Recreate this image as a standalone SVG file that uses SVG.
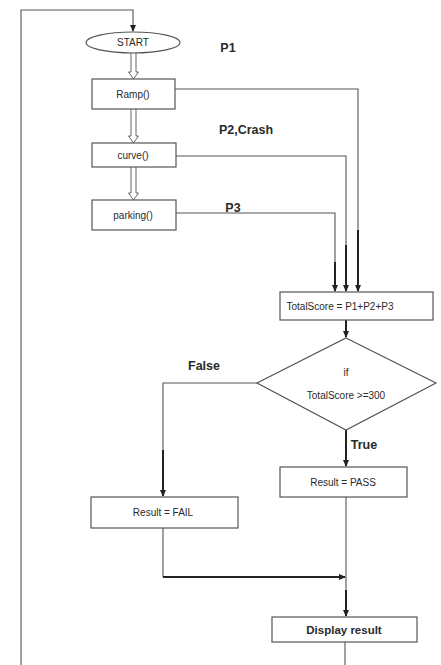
<svg xmlns="http://www.w3.org/2000/svg" width="441" height="665" viewBox="0 0 441 665">
<style>
.box{fill:#fff;stroke:#555;stroke-width:1.2}
.ln{fill:none;stroke:#555;stroke-width:1.1}
.thick{fill:none;stroke:#222;stroke-width:2}
.hol{fill:#fff;stroke:#666;stroke-width:1}
text{font-family:"Liberation Sans",Arial,sans-serif;fill:#2a2a2a;text-anchor:middle}
.t{font-size:10px}
.b{font-weight:bold;font-size:12.5px}
</style>
<defs>
<marker id="ah" markerWidth="8" markerHeight="8" refX="6" refY="4" orient="auto" markerUnits="userSpaceOnUse">
<path d="M0,1 L7,4 L0,7 Z" fill="#222"/>
</marker>
</defs>
<rect width="441" height="665" fill="#fff"/>
<g id="connectors">
<path class="ln" d="M21,665 V10 H133 V31" marker-end="url(#ah)"/>
<path class="hol" d="M131,53 V72 H128.5 L133.5,79 L138.5,72 H136 V53"/>
<path class="hol" d="M131,109 V136 H128.5 L133.5,143 L138.5,136 H136 V109"/>
<path class="hol" d="M131,167 V193 H128.5 L133.5,200 L138.5,193 H136 V167"/>
<path class="ln" d="M175,89 H358 V230"/>
<path class="thick" d="M358,230 V291" marker-end="url(#ah)"/>
<path class="ln" d="M176,156 H346 V245"/>
<path class="thick" d="M346,245 V291" marker-end="url(#ah)"/>
<path class="ln" d="M176,213 H335 V262"/>
<path class="thick" d="M335,262 V291" marker-end="url(#ah)"/>
<path class="thick" d="M346,320 V337" marker-end="url(#ah)"/>
<path class="ln" d="M257,383 H163 V450"/>
<path class="thick" d="M163,450 V496" marker-end="url(#ah)"/>
<path class="thick" d="M346,430 V466" marker-end="url(#ah)"/>
<path class="ln" d="M163,528 V577"/>
<path class="thick" d="M163,577 H345" marker-end="url(#ah)"/>
<path class="ln" d="M346,497 V590"/>
<path class="thick" d="M346,590 V616" marker-end="url(#ah)"/>
<path class="ln" d="M345,642 V665"/>
</g>
<g id="start"><ellipse class="box" cx="133" cy="42.5" rx="47" ry="10.5"/><text class="t" x="133" y="46">START</text></g>
<g id="ramp"><rect class="box" x="92" y="79" width="83" height="30"/><text class="t" x="133" y="97.5">Ramp()</text></g>
<g id="curve"><rect class="box" x="92" y="143" width="84" height="24"/><text class="t" x="133" y="158.5">curve()</text></g>
<g id="parking"><rect class="box" x="92" y="200" width="84" height="30"/><text class="t" x="133" y="218.5">parking()</text></g>
<g id="totalscore"><rect class="box" x="280" y="292" width="153" height="28"/><text class="t" x="340" y="309.5">TotalScore = P1+P2+P3</text></g>
<g id="decision"><polygon class="box" points="346,338 436,383 346,430 257,383"/><text class="t" x="346" y="376">if</text><text class="t" x="346" y="399">TotalScore &gt;=300</text></g>
<g id="fail"><rect class="box" x="91" y="497" width="147" height="31"/><text class="t" x="163" y="516">Result = FAIL</text></g>
<g id="pass"><rect class="box" x="280" y="467" width="127" height="30"/><text class="t" x="343" y="485.5">Result = PASS</text></g>
<g id="display"><rect class="box" x="272" y="617" width="145" height="25"/><text class="b" x="344" y="634" style="font-size:11.5px">Display result</text></g>
<g id="labels">
<text class="b" x="228" y="52">P1</text>
<text class="b" x="246" y="134">P2,Crash</text>
<text class="b" x="233" y="212">P3</text>
<text class="b" x="204" y="370">False</text>
<text class="b" x="364" y="449">True</text>
</g>
</svg>
